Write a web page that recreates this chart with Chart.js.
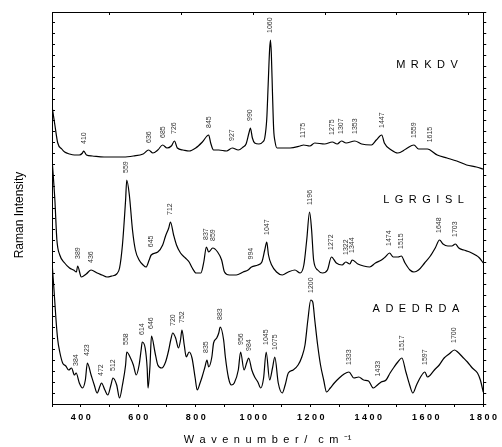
<!DOCTYPE html>
<html>
<head>
<meta charset="utf-8">
<script src="https://cdn.jsdelivr.net/npm/chart.js@4.4.0/dist/chart.umd.min.js"></script>
<style>
  body { margin: 0; background: #fff; }
</style>
</head>
<body>
<canvas id="ramanChart" width="502" height="447"></canvas>
<script>
// top trace
const mrkdvWavenumber = [300, 310, 320, 334, 344, 361, 378, 395, 406, 410, 420, 440, 481, 515, 549, 583, 617, 636, 651, 668, 685, 700, 715, 726, 736, 756, 777, 800, 823, 845, 852, 862, 880, 907, 927, 948, 965, 975, 985, 990, 997, 1005, 1020, 1033, 1040, 1047, 1052, 1057, 1060, 1063, 1067, 1071, 1076, 1083, 1094, 1128, 1163, 1175, 1197, 1214, 1248, 1275, 1292, 1307, 1323, 1353, 1377, 1411, 1428, 1447, 1456, 1480, 1503, 1531, 1559, 1575, 1606, 1615, 1640, 1674, 1708, 1742, 1776, 1800];
const mrkdvIntensity = [298, 279, 261, 255, 252, 250, 249, 249, 251, 253, 249, 248, 247, 247, 247, 248, 250, 254, 251, 254, 259, 256, 258, 263, 256, 254, 253, 256, 262, 269, 261, 254, 254, 253, 256, 254, 257, 260, 271, 276, 266, 261, 260, 262, 266, 285, 320, 355, 364, 350, 310, 275, 262, 256, 256, 256, 258, 259, 258, 261, 260, 262, 260, 263, 261, 263, 260, 259, 264, 269, 261, 254, 251, 255, 259, 255, 255, 254, 249, 246, 243, 239, 237, 235];
const mrkdvPeaks = [410, 636, 685, 726, 845, 927, 990, 1060, 1175, 1275, 1307, 1353, 1447, 1559, 1615];

// middle trace
const lgrgislWavenumber = [300, 310, 317, 327, 344, 361, 375, 385, 389, 402, 419, 436, 457, 474, 491, 508, 525, 535, 545, 556, 560, 569, 580, 590, 603, 617, 627, 638, 645, 668, 685, 695, 706, 712, 723, 733, 747, 764, 777, 788, 801, 818, 828, 837, 845, 859, 876, 890, 900, 917, 941, 965, 982, 994, 1016, 1030, 1040, 1047, 1053, 1064, 1081, 1101, 1122, 1145, 1163, 1176, 1186, 1196, 1203, 1210, 1224, 1241, 1258, 1272, 1289, 1309, 1322, 1336, 1344, 1364, 1384, 1405, 1425, 1446, 1459, 1474, 1487, 1504, 1515, 1528, 1545, 1559, 1575, 1596, 1616, 1633, 1648, 1660, 1677, 1691, 1703, 1715, 1732, 1753, 1773, 1787, 1800];
const lgrgislIntensity = [246, 204, 164, 149, 141, 136, 134, 132, 138, 127, 130, 134, 131, 129, 127, 128, 130, 136, 159, 204, 224, 209, 174, 154, 144, 139, 137, 144, 149, 152, 159, 168, 176, 182, 169, 159, 151, 146, 142, 136, 131, 131, 142, 157, 152, 156, 152, 144, 132, 129, 129, 132, 134, 137, 139, 142, 154, 162, 149, 139, 132, 129, 132, 134, 131, 139, 164, 192, 174, 144, 134, 131, 134, 147, 141, 139, 142, 140, 144, 140, 138, 137, 141, 144, 147, 151, 147, 147, 148, 141, 134, 132, 134, 141, 148, 156, 164, 160, 158, 158, 160, 156, 154, 152, 149, 146, 141];
const lgrgislPeaks = [389, 436, 559, 645, 712, 837, 859, 994, 1047, 1196, 1272, 1322, 1344, 1474, 1515, 1648, 1703];

// bottom trace
const adedrdaWavenumber = [300, 307, 314, 320, 327, 337, 348, 358, 368, 378, 384, 395, 406, 416, 423, 436, 447, 457, 467, 472, 484, 494, 505, 512, 525, 535, 545, 556, 560, 573, 583, 593, 603, 610, 614, 624, 631, 634, 641, 646, 658, 668, 682, 695, 706, 713, 720, 730, 740, 747, 752, 760, 767, 777, 787, 798, 805, 815, 822, 832, 839, 845, 856, 862, 873, 880, 885, 897, 903, 914, 924, 934, 948, 956, 968, 978, 984, 995, 1005, 1016, 1026, 1036, 1045, 1057, 1067, 1075, 1087, 1101, 1111, 1122, 1139, 1156, 1169, 1180, 1190, 1200, 1207, 1214, 1224, 1234, 1245, 1255, 1268, 1282, 1299, 1316, 1333, 1350, 1367, 1384, 1401, 1418, 1432, 1445, 1462, 1476, 1490, 1503, 1517, 1531, 1544, 1555, 1568, 1582, 1597, 1606, 1616, 1630, 1647, 1664, 1681, 1700, 1711, 1728, 1745, 1762, 1780, 1790, 1800];
const adedrdaIntensity = [142, 114, 84, 64, 52, 41, 38, 34, 36, 29, 31, 21, 16, 24, 41, 29, 19, 11, 18, 21, 14, 9, 19, 26, 19, 6, 19, 39, 52, 46, 39, 29, 39, 54, 62, 56, 36, 16, 39, 68, 52, 39, 36, 42, 54, 64, 71, 66, 56, 64, 74, 59, 47, 52, 46, 26, 14, 21, 27, 37, 44, 37, 47, 61, 66, 71, 77, 64, 47, 26, 19, 21, 34, 52, 34, 42, 46, 34, 27, 22, 16, 26, 52, 24, 36, 47, 21, 11, 19, 31, 34, 39, 47, 59, 84, 104, 102, 84, 59, 39, 24, 12, 16, 21, 26, 30, 32, 26, 27, 24, 23, 16, 19, 22, 24, 31, 37, 42, 46, 32, 19, 11, 19, 27, 32, 27, 29, 34, 39, 46, 50, 54, 52, 47, 42, 36, 31, 24, 12];
const adedrdaPeaks = [384, 423, 472, 512, 558, 614, 646, 720, 752, 835, 883, 956, 984, 1045, 1075, 1200, 1333, 1433, 1517, 1597, 1700];

const xTickLabels = [400, 600, 800, 1000, 1200, 1400, 1600, 1800];
const topTicks = [500, 750, 1000, 1250, 1500, 1750];

const FONT = "'Liberation Sans', Arial, sans-serif";

const spectra = [
  { name: "MRKDV", w: mrkdvWavenumber, v: mrkdvIntensity, peaks: mrkdvPeaks, at: [1497, 339] },
  { name: "LGRGISL", w: lgrgislWavenumber, v: lgrgislIntensity, peaks: lgrgislPeaks, at: [1452, 204] },
  { name: "ADEDRDA", w: adedrdaWavenumber, v: adedrdaIntensity, peaks: adedrdaPeaks, at: [1415, 95] },
];

function valueAt(w, v, x) {
  for (let i = 1; i < w.length; i++) {
    if (x <= w[i]) {
      const t = (x - w[i - 1]) / (w[i] - w[i - 1]);
      return v[i - 1] + t * (v[i] - v[i - 1]);
    }
  }
  return v[v.length - 1];
}

const labelPlugin = {
  id: "peakLabels",
  afterDatasetsDraw(chart) {
    const ctx = chart.ctx;
    const xs = chart.scales.x;
    const ys = chart.scales.y;
    ctx.save();
    ctx.fillStyle = "#333";
    ctx.font = "7px " + FONT;
    ctx.textAlign = "left";
    ctx.textBaseline = "middle";
    spectra.forEach((s) => {
      s.peaks.forEach((p) => {
        let top = -Infinity;
        for (let x = p - 6; x <= p + 6; x++) top = Math.max(top, valueAt(s.w, s.v, x));
        ctx.save();
        ctx.translate(xs.getPixelForValue(p), ys.getPixelForValue(top) - 7);
        ctx.rotate(-Math.PI / 2);
        ctx.fillText(String(p), 0, 0);
        ctx.restore();
      });
    });

    // sample names, letter spaced
    ctx.fillStyle = "#000";
    ctx.font = "11px " + FONT;
    ctx.letterSpacing = "5.5px";
    spectra.forEach((s) => {
      ctx.fillText(s.name, xs.getPixelForValue(s.at[0]), ys.getPixelForValue(s.at[1]));
    });
    ctx.letterSpacing = "0px";

    ctx.font = "12px " + FONT;
    ctx.textAlign = "center";
    ctx.translate(20, 215);
    ctx.rotate(-Math.PI / 2);
    ctx.fillText("Raman Intensity", 0, 0);
    ctx.restore();
  },
};

const yStep = 392 / 36;

new Chart(document.getElementById("ramanChart"), {
  type: "line",
  data: {
    datasets: spectra.map((s) => ({
      label: s.name,
      data: s.w.map((w, i) => ({ x: w, y: s.v[i] })),
      borderColor: "#000",
      borderWidth: 1.2,
      pointRadius: 0,
      cubicInterpolationMode: "monotone",
      fill: false,
    })),
  },
  options: {
    responsive: false,
    animation: false,
    layout: { padding: 0 },
    plugins: { legend: { display: false }, tooltip: { enabled: false } },
    scales: {
      x: {
        type: "linear",
        position: "bottom",
        min: 300,
        max: 1800,
        ticks: {
          stepSize: 100,
          autoSkip: false,
          maxRotation: 0,
          padding: 5,
          color: "#000",
          font: { family: FONT, size: 9, weight: "bold" },
          callback: (v) => (xTickLabels.includes(v) ? String(v).split("").join(" ") : ""),
        },
        grid: { drawOnChartArea: false, tickLength: 3, color: "#000" },
        border: { color: "#000", width: 1 },
        title: {
          display: true,
          text: "W\u2002a\u2002v\u2002e\u2002n\u2002u\u2002m\u2002b\u2002e\u2002r\u2002/\u2002\u2002c\u2002m\u2002\u207B\u00B9",
          color: "#000",
          font: { family: FONT, size: 11 },
          padding: { top: 0, bottom: 0 },
        },
        afterFit: (scale) => { scale.height = 43; },
      },
      x2: {
        type: "linear",
        position: "top",
        min: 300,
        max: 1800,
        ticks: { display: false },
        afterBuildTicks: (scale) => { scale.ticks = topTicks.map((v) => ({ value: v })); },
        grid: { drawOnChartArea: false, tickLength: -3, color: "#000" },
        border: { color: "#000", width: 1 },
        afterFit: (scale) => { scale.height = 12; },
      },
      y: {
        type: "linear",
        position: "left",
        min: 0,
        max: 392,
        ticks: { display: false, stepSize: yStep },
        grid: { drawOnChartArea: false, tickLength: -3, color: "#000" },
        border: { color: "#000", width: 1 },
        afterFit: (scale) => { scale.width = 52; },
      },
      y2: {
        type: "linear",
        position: "right",
        min: 0,
        max: 392,
        ticks: { display: false, stepSize: yStep },
        grid: { drawOnChartArea: false, tickLength: 3, color: "#000" },
        border: { color: "#000", width: 1 },
        afterFit: (scale) => { scale.width = 10; },
      },
    },
  },
  plugins: [labelPlugin],
});
</script>
</body>
</html>
